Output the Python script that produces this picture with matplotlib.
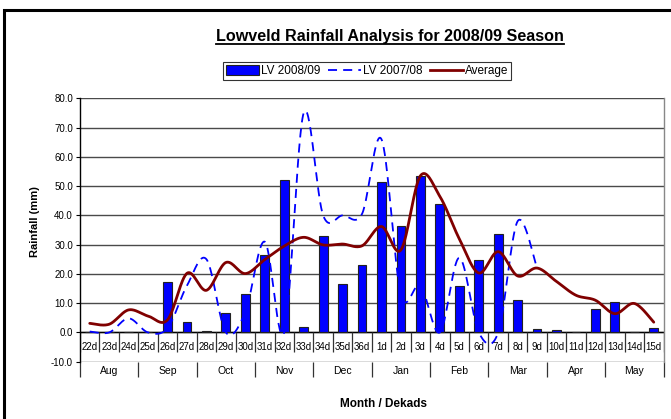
import numpy as np
import matplotlib
matplotlib.use("Agg")
import matplotlib.pyplot as plt
from matplotlib.lines import Line2D
from matplotlib.patches import Patch, Rectangle

plt.rcParams["font.family"] = ["Liberation Sans", "DejaVu Sans"]

dekads = ["22d", "23d", "24d", "25d", "26d", "27d", "28d", "29d", "30d",
          "31d", "32d", "33d", "34d", "35d", "36d", "1d", "2d", "3d",
          "4d", "5d", "6d", "7d", "8d", "9d", "10d", "11d", "12d",
          "13d", "14d", "15d"]
months = ["Aug", "Sep", "Oct", "Nov", "Dec", "Jan", "Feb", "Mar", "Apr", "May"]

lv_0809 = [0.3, 0.0, 0.0, 0.0, 17.1, 3.4, 0.6, 6.5, 13.0,
           26.3, 52.0, 1.8, 33.0, 16.7, 23.1, 51.4, 36.3, 53.5,
           44.0, 15.8, 24.9, 33.8, 11.2, 1.1, 1.0, 0.3, 8.0,
           10.4, 0.0, 1.6]
# 2007/08 season only runs to the 9th dekad of March
lv_0708 = [0.3, 0.0, 4.8, 0.0, 1.5, 16.0, 25.0, 0.0, 7.0,
           31.0, 0.0, 75.0, 40.0, 40.0, 40.5, 66.0, 13.0, 16.0,
           0.0, 25.5, 0.0, 0.0, 38.0, 22.0]
average = [3.1, 2.8, 7.7, 5.6, 4.3, 20.2, 14.4, 23.9, 20.1,
           24.9, 29.5, 32.5, 29.9, 30.2, 29.6, 36.2, 28.2, 53.5,
           46.5, 32.0, 20.3, 27.6, 19.3, 22.0, 17.4, 12.7, 11.0,
           6.4, 9.9, 3.5]


def smooth(y, n=30):
    # Catmull-Rom through the points, same look as a spreadsheet "smoothed line"
    y = np.asarray(y, dtype=float)
    x = np.arange(len(y), dtype=float)
    px = np.concatenate([[x[0]], x, [x[-1]]])
    py = np.concatenate([[y[0]], y, [y[-1]]])
    xs, ys = [], []
    for i in range(len(y) - 1):
        x0, x1, x2, x3 = px[i:i + 4]
        y0, y1, y2, y3 = py[i:i + 4]
        t = np.linspace(0, 1, n, endpoint=False)
        cx1, cy1 = x1 + (x2 - x0) / 6, y1 + (y2 - y0) / 6
        cx2, cy2 = x2 - (x3 - x1) / 6, y2 - (y3 - y1) / 6
        b0, b1, b2, b3 = (1 - t) ** 3, 3 * t * (1 - t) ** 2, 3 * t ** 2 * (1 - t), t ** 3
        xs.append(b0 * x1 + b1 * cx1 + b2 * cx2 + b3 * x2)
        ys.append(b0 * y1 + b1 * cy1 + b2 * cy2 + b3 * y2)
    xs.append([x[-1]])
    ys.append([y[-1]])
    return np.concatenate(xs), np.concatenate(ys)


W, H = 671, 419
fig = plt.figure(figsize=(W / 100, H / 100), dpi=100)
fig.patch.set_facecolor("white")

# outer chart frame
fig.patches.append(Rectangle((4 / W, -0.05), 1.05, (H - 10) / H + 0.05,
                             transform=fig.transFigure, fill=False,
                             edgecolor="black", lw=2.2))

left, right, top, bottom = 80, 663.5, 98.3, 361.7
ax = fig.add_axes([left / W, 1 - bottom / H, (right - left) / W, (bottom - top) / H])

x = np.arange(len(dekads))
ax.bar(x, lv_0809, width=0.45, color="#0000FF", edgecolor="#222222", lw=0.8, zorder=3)

sx, sy = smooth(lv_0708)
ax.plot(sx, sy, color="#0000FF", lw=1.3, dashes=(5, 3.4), zorder=4)
sx, sy = smooth(average)
ax.plot(sx, sy, color="#800000", lw=2.0, zorder=5, solid_capstyle="round")

ax.set_xlim(-0.5, len(dekads) - 0.5)
ax.set_ylim(-10, 80)
ax.set_yticks(np.arange(-10, 81, 10))
ax.set_yticklabels([f"{v:.1f}" for v in np.arange(-10, 81, 10)], fontsize=7)
ax.tick_params(axis="y", length=3, width=0.8, pad=2)
ax.set_xticks([])
ax.yaxis.grid(True, color="#4a4a4a", lw=1.0, zorder=1)
ax.axhline(0, color="black", lw=1.0, zorder=2)

for side in ("top", "bottom"):
    ax.spines[side].set_visible(False)
ax.spines["left"].set_color("black")
ax.spines["left"].set_linewidth(1.0)
ax.spines["right"].set_color("#888888")
ax.spines["right"].set_linewidth(1.0)

# dekad labels sit between the zero line and the -10 gridline
for i, lab in enumerate(dekads):
    ax.text(i, -5, lab, ha="center", va="center", fontsize=7, zorder=6)
ax.vlines(np.arange(len(dekads) + 1) - 0.5, -6.7, 0, color="#333333", lw=0.9, zorder=2)

# month labels and dividers under the plot area
ax.vlines(np.arange(0, len(dekads) + 1, 3) - 0.5, -15.3, -10, color="#333333",
          lw=0.9, clip_on=False)
for j, m in enumerate(months):
    ax.text(3 * j + 1, -13.2, m, ha="center", va="center", fontsize=7.5, clip_on=False)

fig.text(35 / W, 1 - 222 / H, "Rainfall (mm)", rotation=90, ha="center", va="center",
         fontsize=8, fontweight="bold")
fig.text(383 / W, 1 - 404 / H, "Month / Dekads", ha="center", va="center",
         fontsize=8.5, fontweight="bold")

title = fig.text(390 / W, 1 - 37 / H, "Lowveld Rainfall Analysis for 2008/09 Season",
                 ha="center", va="center", fontsize=11.6, fontweight="bold")

handles = [Patch(facecolor="#0000FF", edgecolor="#222222", lw=0.8),
           Line2D([], [], color="#0000FF", lw=1.3, dashes=(5, 3.4)),
           Line2D([], [], color="#800000", lw=2.0)]
leg = fig.legend(handles, ["LV 2008/09", "LV 2007/08", "Average"], ncol=3,
                 loc="center", bbox_to_anchor=(367 / W, 1 - 71 / H), fontsize=8.5,
                 frameon=True, fancybox=False, borderpad=0.25, handlelength=2.8,
                 handletextpad=0.2, columnspacing=0.6, handleheight=0.85)
leg.get_frame().set_edgecolor("black")
leg.get_frame().set_linewidth(0.8)

# underline the title
fig.canvas.draw()
bb = title.get_window_extent(fig.canvas.get_renderer())
uy = (bb.y0 + 0.5) / H
fig.add_artist(Line2D([bb.x0 / W, bb.x1 / W], [uy, uy], transform=fig.transFigure,
                      color="black", lw=1.3))

fig.savefig("out.png", dpi=100)
